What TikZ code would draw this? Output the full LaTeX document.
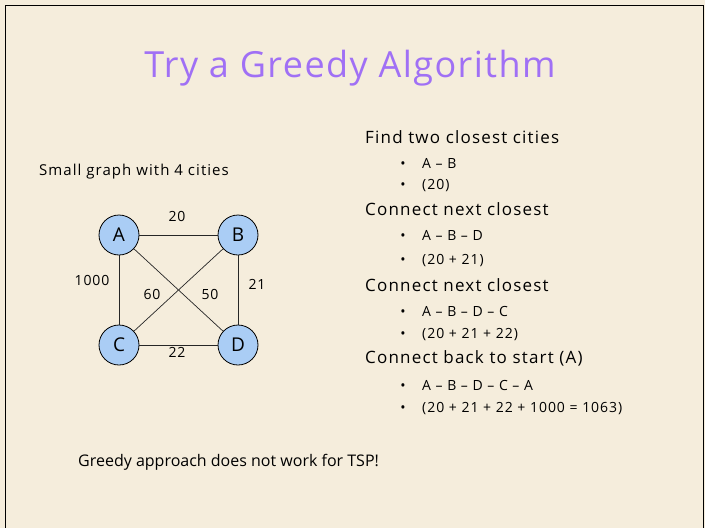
\documentclass[tikz,border=0pt]{standalone}
\usepackage{fontspec}
\setmainfont{Open Sans}
\definecolor{paper}{RGB}{245,237,220}
\definecolor{titlepurple}{RGB}{160,112,245}
\definecolor{cityblue}{RGB}{170,205,245}
\tikzset{
  city/.style={circle, draw=black, line width=0.8pt, fill=cityblue, minimum size=40pt, inner sep=0pt, font=\fontsize{19}{22}\selectfont},
  road/.style={draw=black!85, line width=0.7pt},
  weight/.style={font=\fontsize{14}{16}\selectfont\addfontfeatures{LetterSpace=6}, inner sep=1pt},
  heading/.style={anchor=west, font=\fontsize{17}{20}\selectfont\addfontfeatures{LetterSpace=7}, inner sep=0pt},
  item/.style={anchor=base west, font=\fontsize{14}{17}\selectfont\addfontfeatures{LetterSpace=7}, inner sep=0pt},
  dot/.style={anchor=base, font=\fontsize{14}{17}\selectfont, inner sep=0pt}
}
% one bullet line: baseline y, text
\newcommand{\stepline}[3]{%
  \node[dot] (b#1) at (403,#2) {•};
  \node[item] (t#1) at (422,#2) {#3};}
\begin{document}
\begin{tikzpicture}[x=1pt, y=-1pt]
  % page and frame
  \fill[paper] (0,0) rectangle (705,528);
  \useasboundingbox (0,0) rectangle (705,528);
  \draw[line width=1.6pt] (5.5,540) -- (5.5,5.5) -- (703.5,5.5) -- (703.5,540);

  % title
  \node[text=titlepurple, font=\fontsize{36}{42}\selectfont\addfontfeatures{LetterSpace=4}] (title) at (350,68) {Try a Greedy Algorithm};

  % graph caption
  \node[anchor=west, font=\fontsize{15}{18}\selectfont\addfontfeatures{LetterSpace=7}, inner sep=0pt] (caption) at (39,172) {Small graph with 4 cities};

  % cities
  \node[city] (A) at (119,235) {A};
  \node[city] (B) at (238,235) {B};
  \node[city] (C) at (119,345) {C};
  \node[city] (D) at (238,345) {D};

  % roads
  \path[road] (A) -- (B);
  \path[road] (A) -- (C);
  \path[road] (B) -- (D);
  \path[road] (C) -- (D);
  \path[road] (A) -- (D);
  \path[road] (B) -- (C);

  % weights
  \node[weight] (wab) at (177,216) {20};
  \node[weight] (wac) at (92,280) {1000};
  \node[weight] (wbd) at (257,284) {21};
  \node[weight] (wbc) at (152,294) {60};
  \node[weight] (wad) at (210,294) {50};
  \node[weight] (wcd) at (177,352) {22};

  % greedy steps
  \node[heading] (h1) at (365,137) {Find two closest cities};
  \stepline{1}{168}{A – B}
  \stepline{2}{189}{(20)}
  \node[heading] (h2) at (365,209) {Connect next closest};
  \stepline{3}{240}{A – B – D}
  \stepline{4}{264}{(20 + 21)}
  \node[heading] (h3) at (365,285) {Connect next closest};
  \stepline{5}{316}{A – B – D – C}
  \stepline{6}{338}{(20 + 21 + 22)}
  \node[heading] (h4) at (365,358) {Connect back to start (A)};
  \stepline{7}{390}{A – B – D – C – A}
  \stepline{8}{412}{(20 + 21 + 22 + 1000 = 1063)}

  % conclusion
  \node[anchor=west, font=\fontsize{16}{19}\selectfont, inner sep=0pt] (note) at (78,462) {Greedy approach does not work for TSP!};
\end{tikzpicture}
\end{document}
